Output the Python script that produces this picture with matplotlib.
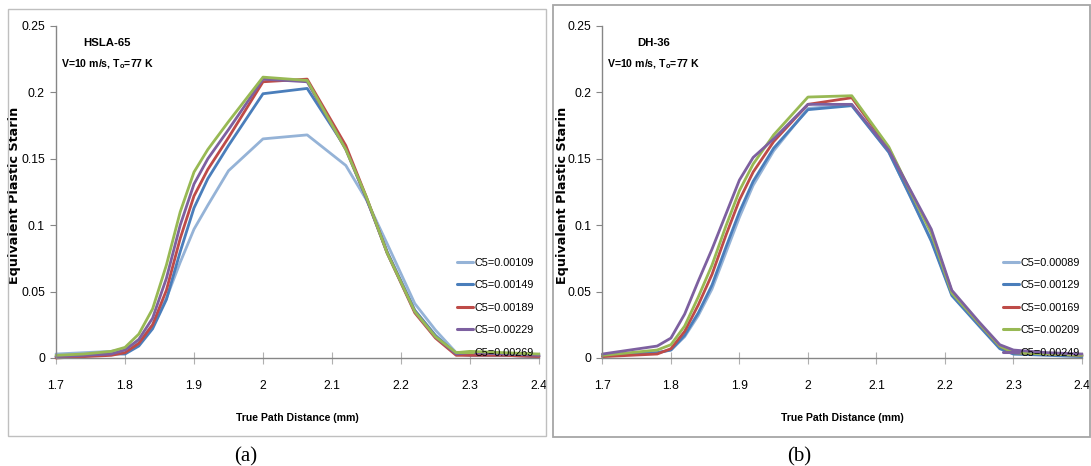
import matplotlib
matplotlib.use("Agg")
import matplotlib.pyplot as plt
from matplotlib import font_manager
from matplotlib.patches import Rectangle

# ---------------- data ----------------
x_a = [1.70, 1.74, 1.78, 1.80, 1.82, 1.84, 1.86, 1.88, 1.90, 1.92, 1.95, 2.00,
       2.064, 2.12, 2.15, 2.18, 2.22, 2.25, 2.28, 2.30, 2.35, 2.40]
labels_a = ["C5=0.00109", "C5=0.00149", "C5=0.00189", "C5=0.00229", "C5=0.00269"]
a_c00109 = [0.003, 0.004, 0.005, 0.007, 0.012, 0.025, 0.045, 0.072, 0.097, 0.115, 0.141, 0.165,
            0.168, 0.145, 0.119, 0.086, 0.041, 0.021, 0.004, 0.003, 0.002, 0.002]
a_c00149 = [0.001, 0.002, 0.003, 0.003, 0.009, 0.022, 0.044, 0.080, 0.113, 0.135, 0.160, 0.199,
            0.203, 0.158, 0.120, 0.080, 0.036, 0.017, 0.003, 0.002, 0.002, 0.001]
a_c00189 = [0.000, 0.001, 0.002, 0.004, 0.011, 0.025, 0.051, 0.090, 0.122, 0.142, 0.166, 0.208,
            0.210, 0.160, 0.121, 0.079, 0.034, 0.015, 0.002, 0.002, 0.002, 0.001]
a_c00229 = [0.001, 0.002, 0.003, 0.006, 0.014, 0.030, 0.060, 0.100, 0.131, 0.150, 0.172, 0.210,
            0.208, 0.157, 0.120, 0.079, 0.035, 0.016, 0.003, 0.004, 0.003, 0.002]
a_c00269 = [0.002, 0.003, 0.005, 0.008, 0.018, 0.037, 0.070, 0.110, 0.140, 0.157, 0.178, 0.2115,
            0.209, 0.157, 0.121, 0.079, 0.035, 0.016, 0.004, 0.005, 0.004, 0.003]

x_b = [1.70, 1.74, 1.78, 1.80, 1.82, 1.84, 1.86, 1.88, 1.90, 1.92, 1.95, 2.00,
       2.064, 2.118, 2.15, 2.18, 2.21, 2.25, 2.28, 2.30, 2.35, 2.40]
labels_b = ["C5=0.00089", "C5=0.00129", "C5=0.00169", "C5=0.00209", "C5=0.00249"]
b_c00089 = [0.002, 0.003, 0.004, 0.006, 0.016, 0.032, 0.052, 0.079, 0.106, 0.130, 0.156, 0.188,
            0.1905, 0.155, 0.121, 0.089, 0.048, 0.025, 0.008, 0.003, 0.003, 0.002]
b_c00129 = [0.002, 0.003, 0.004, 0.006, 0.017, 0.034, 0.055, 0.083, 0.110, 0.133, 0.158, 0.187,
            0.190, 0.155, 0.121, 0.088, 0.047, 0.024, 0.007, 0.003, 0.002, 0.001]
b_c00169 = [0.001, 0.002, 0.003, 0.007, 0.020, 0.040, 0.063, 0.092, 0.119, 0.140, 0.163, 0.191,
            0.196, 0.158, 0.125, 0.095, 0.050, 0.026, 0.009, 0.004, 0.003, 0.002]
b_c00209 = [0.002, 0.004, 0.006, 0.010, 0.024, 0.046, 0.070, 0.099, 0.126, 0.146, 0.168, 0.1965,
            0.1975, 0.159, 0.125, 0.094, 0.049, 0.026, 0.009, 0.004, 0.003, 0.002]
b_c00249 = [0.003, 0.006, 0.009, 0.015, 0.033, 0.058, 0.082, 0.108, 0.134, 0.151, 0.165, 0.191,
            0.191, 0.1565, 0.126, 0.097, 0.051, 0.027, 0.010, 0.006, 0.004, 0.003]

xticks = [1.7, 1.8, 1.9, 2.0, 2.1, 2.2, 2.3, 2.4]
xticklabels = ["1.7", "1.8", "1.9", "2", "2.1", "2.2", "2.3", "2.4"]
yticks = [0, 0.05, 0.1, 0.15, 0.2, 0.25]
yticklabels = ["0", "0.05", "0.1", "0.15", "0.2", "0.25"]

LBLUE, DBLUE, RED, PURPLE, GREEN = "#95B3D7", "#4A7EBB", "#BE4B48", "#7D60A0", "#98B954"
colors_a = [LBLUE, DBLUE, RED, PURPLE, GREEN]
colors_b = [LBLUE, DBLUE, RED, GREEN, PURPLE]

# ---------------- fonts ----------------
available = {f.name for f in font_manager.fontManager.ttflist}
NARROW = "Liberation Sans Narrow" if "Liberation Sans Narrow" in available else "Liberation Sans"
SERIF = "Liberation Serif"
plt.rcParams["font.family"] = [NARROW, "DejaVu Sans"]
plt.rcParams["mathtext.default"] = "regular"

W, H = 1091, 466
fig = plt.figure(figsize=(W / 100, H / 100), dpi=100)

axis_gray = "#868686"


def px_axes(left, right, top, bottom):
    return [left / W, 1 - bottom / H, (right - left) / W, (bottom - top) / H]


def make_panel(rect, xs, series, labels, colors, title, leg_x, ylab_x):
    ax = fig.add_axes(rect)
    for ys, c, lab in zip(series, colors, labels):
        ax.plot(xs, ys, color=c, lw=2.0, label=lab, solid_joinstyle="round",
                solid_capstyle="round", clip_on=False)
    ax.set_xlim(1.7, 2.4)
    ax.set_ylim(0, 0.25)
    ax.set_xticks(xticks)
    ax.set_xticklabels(xticklabels)
    ax.set_yticks(yticks)
    ax.set_yticklabels(yticklabels)
    for s in ("top", "right"):
        ax.spines[s].set_visible(False)
    for s in ("left", "bottom"):
        ax.spines[s].set_color(axis_gray)
        ax.spines[s].set_linewidth(1.0)
    ax.tick_params(axis="x", direction="inout", length=8, width=0.8, color="#B0B0B0",
                   pad=12, labelsize=8.8, labelcolor="black")
    ax.tick_params(axis="y", direction="out", length=4, width=0.8, color=axis_gray,
                   pad=4, labelsize=8.8, labelcolor="black")
    ax.text(ylab_x, 0.49, "Equivalent Plastic Starin", rotation=90, transform=ax.transAxes,
            ha="center", va="center", fontsize=9.2, fontweight="bold", family="DejaVu Sans")
    ax.text(0.5, -0.18, "True Path Distance (mm)", transform=ax.transAxes,
            ha="center", va="center", fontsize=7.6, fontweight="bold")
    ax.text(0.106, 0.948, title, transform=ax.transAxes, ha="center", va="center",
            fontsize=8.2, fontweight="bold")
    ax.text(0.106, 0.886, r"V=10 m/s, T$_\mathregular{o}$=77 K", transform=ax.transAxes,
            ha="center", va="center", fontsize=7.6, fontweight="bold")
    leg = ax.legend(loc="upper left", bbox_to_anchor=(leg_x, 0.302), frameon=False,
                    fontsize=7.8, handlelength=1.45, handletextpad=0.2,
                    labelspacing=1.15, borderpad=0, borderaxespad=0)
    for line in leg.get_lines():
        line.set_linewidth(2.2)
    return ax


ax_a = make_panel(px_axes(56, 539, 26, 358), x_a,
                  [a_c00109, a_c00149, a_c00189, a_c00229, a_c00269],
                  labels_a, colors_a, "HSLA-65", 0.830, -0.085)
ax_b = make_panel(px_axes(602.4, 1082, 26, 358), x_b,
                  [b_c00089, b_c00129, b_c00169, b_c00209, b_c00249],
                  labels_b, colors_b, "DH-36", 0.835, -0.084)

# panel frames
fig.add_artist(Rectangle((7.5 / W, 1 - 436 / H), (546 - 7.5) / W, (436 - 8.5) / H,
                         transform=fig.transFigure, fill=False, ec="#BFBFBF", lw=1.0))
fig.add_artist(Rectangle((552.5 / W, 1 - 437 / H), (1089.5 - 552.5) / W, (437 - 5) / H,
                         transform=fig.transFigure, fill=False, ec="#A6A6A6", lw=1.3))

fig.text(245.5 / W, 1 - 457 / H, "(a)", ha="center", va="center", fontsize=15, family=SERIF)
fig.text(799 / W, 1 - 457 / H, "(b)", ha="center", va="center", fontsize=15, family=SERIF)

fig.savefig("out.png", dpi=100)
